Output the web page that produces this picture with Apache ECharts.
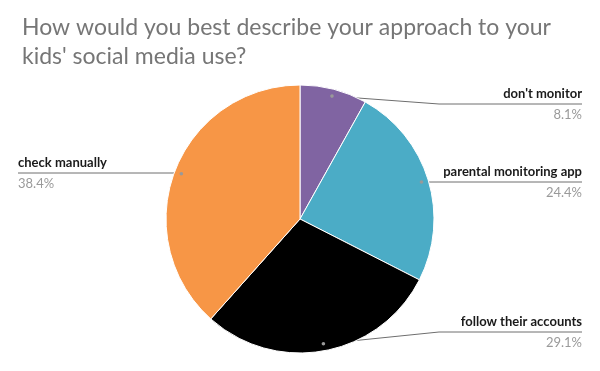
<!DOCTYPE html>
<html><head><meta charset="utf-8">
<script src="https://cdn.jsdelivr.net/npm/echarts@6/dist/echarts.min.js"></script>
<style>html,body{margin:0;padding:0;background:#fff}#c{width:600px;height:371px}</style>
</head><body><div id="c"></div>
<script>
const titleText = "How would you best describe your approach to your\nkids' social media use?";
const categories = ["don't monitor", "parental monitoring app", "follow their accounts", "check manually"];
const values = [8.1, 24.4, 29.1, 38.4];
const colors = ['#8064A2', '#4BACC6', '#000000', '#F79646'];

const CX = 300, CY = 219, R = 134, RL = 127;
// label line vertical positions (layout)
const labelLineY = [104, 182, 332, 173];
const FONT = 'Lato, "Open Sans", sans-serif';

const chart = echarts.init(document.getElementById('c'));
const data = categories.map((c, i) => ({ name: c, value: values[i], itemStyle: { color: colors[i] } }));
const total = values.reduce((a, b) => a + b, 0);

// dots at label line starts
const dots = [];
let cum = 0;
values.forEach((v, i) => {
  const mid = (cum + v / 2) / total * Math.PI * 2;
  cum += v;
  dots.push({ type: 'circle', shape: { cx: CX + Math.sin(mid) * RL, cy: CY - Math.cos(mid) * RL, r: 1.8 },
    style: { fill: '#999' }, z: 100 });
});

chart.setOption({
  animation: false,
  title: { text: titleText, left: 17, top: 8,
    textStyle: { fontFamily: FONT, fontSize: 23, fontWeight: 'normal', color: '#767676', lineHeight: 29 } },
  graphic: dots,
  series: [
    { type: 'pie', center: [CX, CY], radius: R, startAngle: 90, clockwise: true, silent: true,
      label: { show: false }, labelLine: { show: false },
      itemStyle: { borderColor: '#fff', borderWidth: 1 }, data: data },
    { type: 'pie', center: [CX, CY], radius: RL, startAngle: 90, clockwise: true, silent: true,
      itemStyle: { color: 'rgba(0,0,0,0)' },
      label: { show: true, position: 'outside', alignTo: 'edge', edgeDistance: 18,
        formatter: p => '{n|' + p.name + '}\n{p|' + p.value.toFixed(1) + '%}',
        rich: {
          n: { fontFamily: FONT, fontSize: 13, fontWeight: 'bold', color: '#1a1a1a', lineHeight: 21 },
          p: { fontFamily: FONT, fontSize: 13, color: '#9a9a9a', lineHeight: 21 }
        } },
      labelLine: { show: true, length: 5, length2: 5, lineStyle: { color: '#6e6e6e', width: 1 } },
      labelLayout: function (params) {
        const i = params.dataIndex;
        const y = labelLineY[i];
        const start = params.labelLinePoints[0];
        const right = start[0] >= CX;
        if (right) {
          const bx = Math.max(start[0], 439);
          return { x: 582, y: y, align: 'right', verticalAlign: 'middle',
            labelLinePoints: [start, [bx, y], [582, y]] };
        } else {
          return { x: 18, y: y, align: 'left', verticalAlign: 'middle',
            labelLinePoints: [start, [start[0], y], [18, y]] };
        }
      },
      data: data.map(d => ({ name: d.name, value: d.value, itemStyle: { color: 'rgba(0,0,0,0)' } })) }
  ]
});
</script></body></html>
